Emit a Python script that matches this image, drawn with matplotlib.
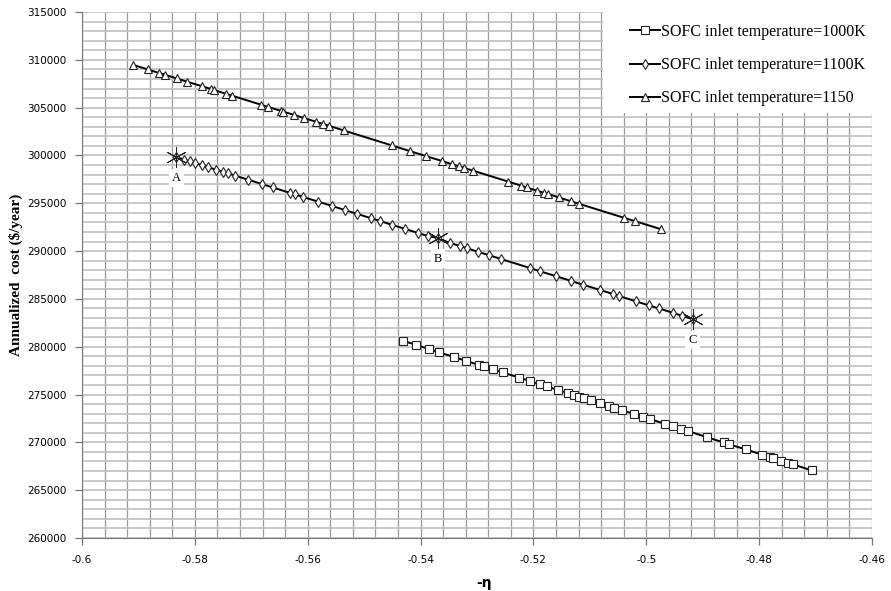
import numpy as np
import matplotlib.pyplot as plt
from matplotlib.patches import Rectangle
from matplotlib.ticker import MultipleLocator

# ---- data (x = -eta, y = annualized cost) ----
x_1000 = [-0.5431, -0.5408, -0.5385, -0.5368, -0.5341, -0.5320, -0.5297, -0.5288,
          -0.5272, -0.5254, -0.5226, -0.5206, -0.5189, -0.5176, -0.5157, -0.5139,
          -0.5128, -0.5120, -0.5111, -0.5098, -0.5082, -0.5066, -0.5058, -0.5043,
          -0.5022, -0.5006, -0.4994, -0.4967, -0.4953, -0.4939, -0.4926, -0.4893,
          -0.4863, -0.4854, -0.4824, -0.4795, -0.4781, -0.4776, -0.4762, -0.4749,
          -0.4740, -0.4707]
y_1000 = [280620, 280190, 279760, 279430, 278930, 278530, 278100, 277940,
          277640, 277310, 276780, 276410, 276080, 275850, 275490, 275160,
          274960, 274790, 274630, 274390, 274100, 273800, 273630, 273370,
          272970, 272670, 272440, 271940, 271680, 271410, 271180, 270550,
          269990, 269820, 269260, 268730, 268470, 268370, 268100, 267870,
          267700, 267070]

x_1100 = [-0.5833, -0.5819, -0.5809, -0.5800, -0.5787, -0.5777, -0.5763, -0.5750,
          -0.5741, -0.5729, -0.5706, -0.5681, -0.5662, -0.5632, -0.5623, -0.5609,
          -0.5582, -0.5557, -0.5534, -0.5513, -0.5488, -0.5472, -0.5451, -0.5428,
          -0.5405, -0.5387, -0.5369, -0.5348, -0.5330, -0.5318, -0.5299, -0.5279,
          -0.5258, -0.5206, -0.5189, -0.5160, -0.5134, -0.5113, -0.5082, -0.5059,
          -0.5049, -0.5019, -0.4996, -0.4978, -0.4953, -0.4937, -0.4918]
y_1100 = [299830, 299570, 299370, 299210, 298980, 298780, 298520, 298290,
          298130, 297900, 297470, 297010, 296650, 296100, 295930, 295670,
          295180, 294720, 294290, 293900, 293440, 293150, 292750, 292330,
          291900, 291580, 291350, 290850, 290530, 290300, 289940, 289580,
          289180, 288230, 287900, 287380, 286890, 286500, 285940, 285510,
          285320, 284760, 284330, 284010, 283550, 283250, 282890]

x_1150 = [-0.5910, -0.5883, -0.5864, -0.5853, -0.5832, -0.5814, -0.5787, -0.5771,
          -0.5766, -0.5745, -0.5734, -0.5683, -0.5671, -0.5647, -0.5644, -0.5624,
          -0.5607, -0.5585, -0.5573, -0.5562, -0.5536, -0.5451, -0.5419, -0.5391,
          -0.5362, -0.5345, -0.5332, -0.5323, -0.5307, -0.5245, -0.5222, -0.5212,
          -0.5194, -0.5182, -0.5174, -0.5155, -0.5134, -0.5120, -0.5040, -0.5020,
          -0.4974]
y_1150 = [309480, 308990, 308630, 308440, 308050, 307720, 307230, 306940,
          306840, 306450, 306250, 305310, 305080, 304660, 304590, 304240,
          303910, 303520, 303290, 303100, 302610, 301050, 300460, 299940,
          299420, 299090, 298860, 298700, 298410, 297270, 296850, 296650,
          296320, 296100, 295970, 295610, 295220, 294960, 293490, 293130,
          292290]

pt_labels = ['A', 'B', 'C']
pt_x = [-0.5833, -0.5369, -0.4918]
pt_y = [299830, 291400, 282890]

labels = ['SOFC inlet temperature=1000K', 'SOFC inlet temperature=1100K',
          'SOFC inlet temperature=1150']

fig = plt.figure(figsize=(8.91, 5.91), dpi=100)
ax = fig.add_axes([82 / 891, 53 / 591, 790 / 891, 526 / 591])

mk = dict(color='black', lw=1.4, markerfacecolor='white', markeredgecolor='#222222',
          markeredgewidth=0.8)
l1, = ax.plot(x_1000, y_1000, marker='s', markersize=5.5, **mk)
l2, = ax.plot(x_1100, y_1100, marker='d', markersize=5.5, **mk)
l3, = ax.plot(x_1150, y_1150, marker='^', markersize=6, **mk)

ax.plot(pt_x, pt_y, ls='none', marker=(6, 2, 0), markersize=15, color='#222222',
        markeredgewidth=0.7, zorder=4)
for lab, px, py in zip(pt_labels, pt_x, pt_y):
    ax.annotate(lab, (px, py), xytext=(0, -15), textcoords='offset points',
                ha='center', va='center', fontsize=9, family='Liberation Serif',
                bbox=dict(boxstyle='square,pad=0.25', fc='white', ec='none'))

ax.set_xlim(-0.6, -0.46)
ax.set_ylim(260000, 315000)
ax.xaxis.set_major_locator(MultipleLocator(0.02))
ax.xaxis.set_minor_locator(MultipleLocator(0.004))
ax.yaxis.set_major_locator(MultipleLocator(5000))
ax.yaxis.set_minor_locator(MultipleLocator(1000))
ax.set_xticklabels([('%g' % v) for v in ax.get_xticks()])
ax.grid(which='both', axis='x', color='#9a9a9a', lw=0.9)
ax.grid(which='both', axis='y', color='#c4c4c4', lw=1.3)
ax.set_axisbelow(True)
ax.tick_params(which='minor', length=0)
ax.tick_params(which='major', length=5, width=0.9, color='#777777', labelsize=7.5,
               direction='out')
ax.tick_params(axis='x', pad=7)
ax.tick_params(axis='y', pad=6)
for s in ['top', 'right']:
    ax.spines[s].set_visible(False)
for s in ['left', 'bottom']:
    ax.spines[s].set_color('#777777')

ax.set_xlabel('-η', fontsize=10, fontweight='bold', labelpad=8, x=0.509)
ax.set_ylabel('Annualized  cost ($/year)', fontsize=11, fontweight='bold',
              family='Liberation Serif', labelpad=3)

# white block behind the legend
fig.patches.append(Rectangle((603 / 891, 1 - 113 / 591), 288 / 891, 113 / 591,
                             transform=fig.transFigure, fc='white', ec='none', zorder=3))
fig.legend([l1, l2, l3], labels, loc='upper left',
           bbox_to_anchor=(622 / 891, 1 - 16 / 591), frameon=False,
           prop={'family': 'Liberation Serif', 'size': 11.5},
           handlelength=1.9, handletextpad=0.05, labelspacing=1.08, borderpad=0)

fig.savefig('out.png', dpi=100)
